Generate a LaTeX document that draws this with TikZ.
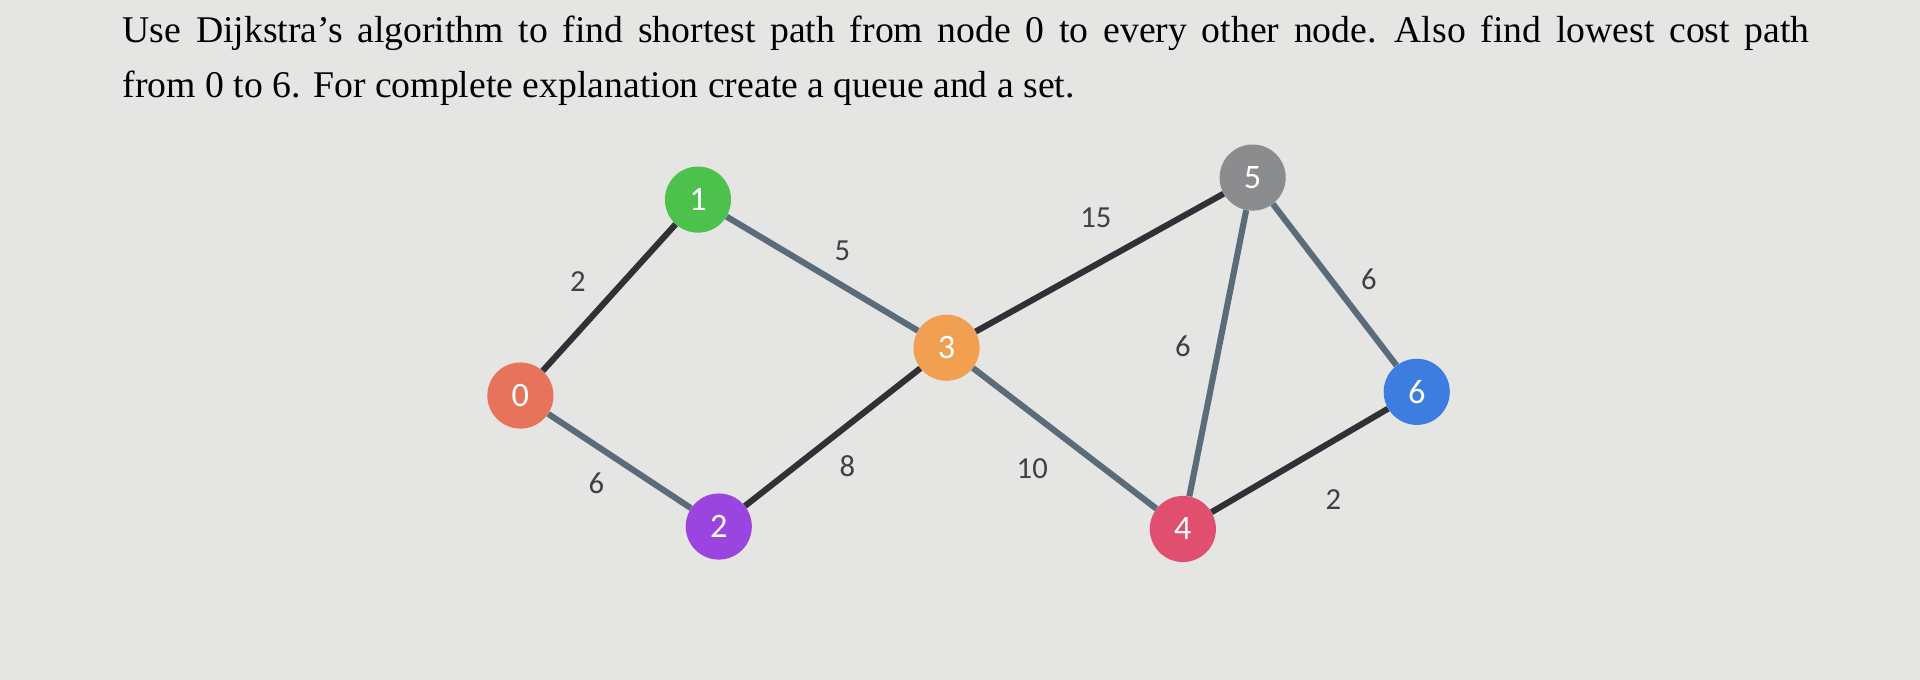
\documentclass[tikz,border=0pt]{standalone}
\usepackage{fontspec}
\setmainfont{Liberation Serif}
\newfontfamily\lblfont{Carlito}
\begin{document}
\begin{tikzpicture}[x=1pt,y=-1pt,
  vtx/.style={circle,minimum size=54pt,inner sep=0pt,text=white,font=\lblfont\fontsize{28}{28}\selectfont},
  edg/.style={line width=5pt},
  wt/.style={font=\lblfont\fontsize{25}{25}\selectfont,text=black!75}]
\definecolor{bg}{HTML}{E5E5E3}
\definecolor{ed1}{HTML}{2E3236}
\definecolor{ed2}{HTML}{5A6C7A}
\fill[bg] (0,0) rectangle (1568,555);
\useasboundingbox (0,0) rectangle (1568,555);
\node[anchor=west,inner sep=0pt,font=\fontsize{30.8}{31}\selectfont] (t1) at (100,27) {\spaceskip=12pt plus 2pt Use Dijkstra's algorithm to find shortest path from node 0 to every other node. Also find lowest cost path};
\node[anchor=west,inner sep=0pt,font=\fontsize{30.8}{31}\selectfont] (t2) at (100,72) {from 0 to 6. For complete explanation create a queue and a set.};
\node[vtx,fill={rgb,255:red,230;green,115;blue,90}] (n0) at (425,323) {0};
\node[vtx,fill={rgb,255:red,76;green,194;blue,76}] (n1) at (570,163) {1};
\node[vtx,fill={rgb,255:red,155;green,69;blue,224}] (n2) at (587,430) {2};
\node[vtx,fill={rgb,255:red,240;green,160;blue,80}] (n3) at (773,284) {3};
\node[vtx,fill={rgb,255:red,224;green,80;blue,110}] (n4) at (966,432) {4};
\node[vtx,fill={rgb,255:red,138;green,140;blue,142}] (n5) at (1023,145) {5};
\node[vtx,fill={rgb,255:red,62;green,125;blue,224}] (n6) at (1157,320) {6};
\draw[edg,ed1] (n0) -- (n1);
\draw[edg,ed2] (n1) -- (n3);
\draw[edg,ed2] (n0) -- (n2);
\draw[edg,ed1] (n2) -- (n3);
\draw[edg,ed1] (n3) -- (n5);
\draw[edg,ed2] (n3) -- (n4);
\draw[edg,ed2] (n4) -- (n5);
\draw[edg,ed2] (n5) -- (n6);
\draw[edg,ed1] (n4) -- (n6);
\node[wt] (w01) at (472,230) {2};
\node[wt] (w13) at (688,205) {5};
\node[wt] (w35) at (895,178) {15};
\node[wt] (w56) at (1118,228) {6};
\node[wt] (w45) at (966,283) {6};
\node[wt] (w02) at (487,395) {6};
\node[wt] (w23) at (692,381) {8};
\node[wt] (w34) at (843,383) {10};
\node[wt] (w46) at (1089,408) {2};
\end{tikzpicture}
\end{document}
